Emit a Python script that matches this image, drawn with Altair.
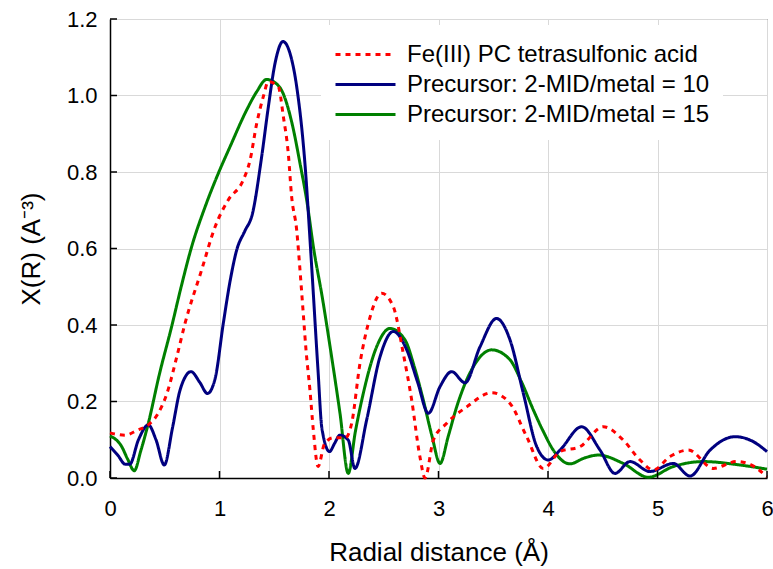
import altair as alt
import pandas as pd

# ---- data ----
names = ["Fe(III) PC tetrasulfonic acid", "Precursor: 2-MID/metal = 10", "Precursor: 2-MID/metal = 15"]
colors = ["#ff0000", "#00007f", "#008000"]

fe_x = [0, 0.137, 0.25, 0.35, 0.44, 0.52, 0.61, 0.685, 0.837, 0.96, 1.08, 1.217, 1.279, 1.34, 1.40,
        1.446, 1.537, 1.583, 1.628, 1.659, 1.705, 1.735, 1.765, 1.79, 1.826, 1.857, 1.90, 1.96, 2.04,
        2.15, 2.207, 2.283, 2.359, 2.48, 2.587, 2.678, 2.755, 2.83, 2.877, 2.953, 3.075, 3.258, 3.486,
        3.653, 3.805, 3.957, 4.11, 4.292, 4.505, 4.688, 4.84, 4.962, 5.114, 5.282, 5.51, 5.723, 5.85, 6.0]
fe_y = [0.118, 0.112, 0.125, 0.139, 0.169, 0.221, 0.317, 0.404, 0.544, 0.657, 0.727, 0.779, 0.831, 0.927, 0.997,
        1.036, 1.023, 0.945, 0.849, 0.735, 0.648, 0.544, 0.43, 0.335, 0.23, 0.125, 0.03, 0.09, 0.105,
        0.105, 0.143, 0.30, 0.404, 0.483, 0.448, 0.326, 0.204, 0.056, 0.0, 0.099, 0.143, 0.186, 0.223,
        0.195, 0.108, 0.025, 0.069, 0.082, 0.134, 0.099, 0.047, 0.021, 0.056, 0.073, 0.025, 0.043, 0.035, 0.003]

p10_x = [0, 0.07, 0.14, 0.18, 0.26, 0.35, 0.42, 0.496, 0.57, 0.64, 0.74, 0.82, 0.89, 0.96, 1.035, 1.10,
         1.157, 1.23, 1.30, 1.385, 1.446, 1.507, 1.58, 1.644, 1.705, 1.78, 1.84, 1.90, 1.935, 2.005, 2.05,
         2.10, 2.176, 2.237, 2.344, 2.466, 2.587, 2.71, 2.81, 2.907, 3.014, 3.12, 3.242, 3.379, 3.53, 3.653,
         3.775, 3.897, 4.003, 4.11, 4.307, 4.475, 4.612, 4.749, 4.93, 5.144, 5.297, 5.48, 5.708, 5.875, 6.0]
p10_y = [0.082, 0.06, 0.036, 0.036, 0.10, 0.139, 0.10, 0.034, 0.13, 0.23, 0.278, 0.25, 0.221, 0.26, 0.405, 0.52,
         0.596, 0.645, 0.69, 0.84, 0.97, 1.084, 1.141, 1.11, 1.023, 0.823, 0.561, 0.28, 0.13, 0.069, 0.09,
         0.112, 0.099, 0.025, 0.152, 0.317, 0.383, 0.335, 0.25, 0.169, 0.239, 0.278, 0.249, 0.343, 0.417, 0.361,
         0.221, 0.082, 0.047, 0.073, 0.134, 0.073, 0.012, 0.043, 0.017, 0.038, 0.005, 0.073, 0.108, 0.095, 0.069]

p15_x = [0, 0.107, 0.16, 0.222, 0.28, 0.35, 0.45, 0.563, 0.65, 0.746, 0.87, 0.99, 1.096, 1.248, 1.34, 1.43,
         1.50, 1.58, 1.66, 1.735, 1.80, 1.857, 1.94, 2.01, 2.10, 2.176, 2.24, 2.313, 2.435, 2.557, 2.694,
         2.78, 2.861, 2.94, 3.014, 3.09, 3.166, 3.318, 3.486, 3.653, 3.76, 3.866, 3.96, 4.048, 4.2, 4.33,
         4.46, 4.688, 4.916, 5.144, 5.418, 5.753, 6.0]
p15_y = [0.11, 0.082, 0.05, 0.019, 0.07, 0.143, 0.27, 0.396, 0.50, 0.605, 0.71, 0.797, 0.866, 0.962, 1.01, 1.042,
         1.035, 1.006, 0.93, 0.823, 0.72, 0.605, 0.47, 0.343, 0.17, 0.012, 0.12, 0.221, 0.343, 0.391, 0.361,
         0.29, 0.204, 0.11, 0.038, 0.11, 0.186, 0.291, 0.335, 0.309, 0.25, 0.178, 0.12, 0.073, 0.037, 0.052,
         0.06, 0.038, 0.002, 0.03, 0.043, 0.034, 0.023]

x_ticks = [0, 1, 2, 3, 4, 5, 6]
y_ticks = [0.0, 0.2, 0.4, 0.6, 0.8, 1.0, 1.2]

# draw order: green, blue, red (red on top)
frames = []
for nm, xs, ys, k in [(names[2], p15_x, p15_y, 0), (names[1], p10_x, p10_y, 1), (names[0], fe_x, fe_y, 2)]:
    frames.append(pd.DataFrame({"r": xs, "chi": ys, "series": nm, "k": k}))
df = pd.concat(frames, ignore_index=True)

W, H = 657, 459
FONT = "Liberation Sans"

xscale = alt.Scale(domain=[0, 6], nice=False, zero=False)
yscale = alt.Scale(domain=[0, 1.2], nice=False)

lines = alt.Chart(df).mark_line(strokeWidth=3, interpolate="monotone", strokeCap="butt").encode(
    x=alt.X("r:Q", scale=xscale,
            axis=alt.Axis(values=x_ticks, format="d", title="Radial distance (Å)",
                          titleX=W / 2, titleY=74, titleBaseline="middle", labelPadding=20,
                          labelFlush=False)),
    y=alt.Y("chi:Q", scale=yscale,
            axis=alt.Axis(values=y_ticks, format=".1f", title="X(R) (A⁻³)",
                          titleX=-79, titleY=H / 2, titleBaseline="middle", titleAngle=270,
                          labelPadding=13, labelFlush=False)),
    color=alt.Color("series:N", scale=alt.Scale(domain=names, range=colors), title=None),
    strokeDash=alt.StrokeDash("series:N", scale=alt.Scale(domain=names, range=[[5, 5], [1, 0], [1, 0]]),
                              title=None),
    detail="k:N",
    order="k:Q",
)

ytick_df = pd.DataFrame({"v": y_ticks})
xtick_df = pd.DataFrame({"v": x_ticks})
yt = alt.Chart(ytick_df).mark_rule(color="black", strokeWidth=1.5).encode(
    y=alt.Y("v:Q", scale=yscale), x=alt.value(0), x2=alt.value(7))
xt = alt.Chart(xtick_df).mark_rule(color="black", strokeWidth=1.5).encode(
    x=alt.X("v:Q", scale=xscale), y=alt.value(H), y2=alt.value(H - 7))

chart = alt.layer(lines, yt, xt).properties(
    width=W, height=H,
    autosize=alt.AutoSizeParams(type="none"),
    padding={"left": 110, "top": 19, "right": 6, "bottom": 91},
).configure(
    font=FONT,
    background="white",
).configure_view(
    stroke="#404040", strokeWidth=1,
).configure_axis(
    grid=True, gridColor="#d9d9d9", gridWidth=1,
    domainColor="black", domainWidth=1.5,
    ticks=False,
    labelFont=FONT, labelFontSize=22, labelColor="black",
    titleFont=FONT, titleFontSize=26, titleFontWeight="normal", titleColor="black",
).configure_legend(
    orient="none", legendX=211, legendY=6,
    symbolType="M-1,0H3", symbolSize=900, symbolStrokeWidth=3,
    labelFont=FONT, labelFontSize=24, labelColor="black", labelOffset=40, labelLimit=0,
    fillColor="white", padding=13, rowPadding=1,
)

chart.save("out.html", embed_options={"renderer": "svg", "actions": False})
